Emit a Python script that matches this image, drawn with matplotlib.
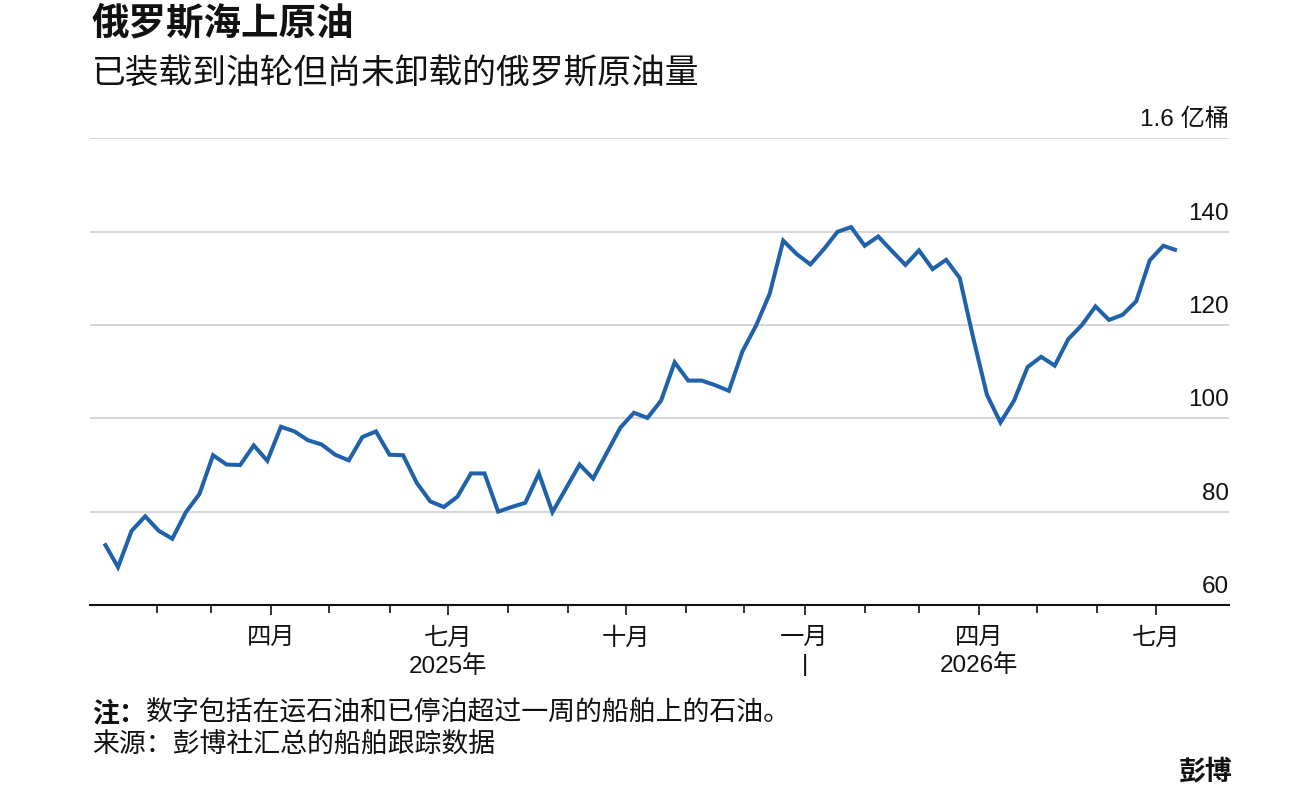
import matplotlib
matplotlib.use("Agg")
import matplotlib.pyplot as plt
import matplotlib.ticker as mticker
import matplotlib.dates as mdates
import matplotlib.transforms as mtransforms
import pandas as pd

plt.rcParams['font.family'] = ['Liberation Sans', 'Noto Sans CJK SC', 'DejaVu Sans']

# ── Data ──────────────────────────────────────────────────────────────────────

START = "2025-01-05"      # weekly readings
volume = [73.2, 68.1, 75.9, 79.0, 75.9, 74.2, 79.9, 83.8, 92.1, 90.1,
          90.0, 94.2, 90.9, 98.2, 97.2, 95.3, 94.4, 92.2, 91.0, 96.0,
          97.2, 92.2, 92.1, 86.2, 82.2, 81.0, 83.2, 88.2, 88.2, 80.0,
          81.0, 81.9, 88.2, 79.9, 85.0, 90.1, 87.1, 92.6, 98.0, 101.2,
          100.1, 103.8, 112.0, 108.1, 108.1, 107.1, 105.9, 114.4, 119.9, 126.7,
          138.1, 135.2, 133.0, 136.3, 140.0, 141.0, 137.0, 139.0, 135.9, 132.9,
          136.0, 132.0, 134.0, 130.1, 117.2, 105.1, 99.1, 103.8, 111.0, 113.2,
          111.3, 117.0, 120.0, 124.0, 121.1, 122.2, 125.1, 133.9, 137.0, 136.0]
dates = pd.date_range(START, periods=len(volume), freq="7D")

y_ticks = [60, 80, 100, 120, 140, 160]
y_labels = ["60", "80", "100", "120", "140", "1.6 亿桶"]

x_ticks = ["2025-04-01", "2025-07-01", "2025-10-01", "2026-01-01", "2026-04-01", "2026-07-01"]
x_labels = ["四月", "七月\n2025年", "十月", "一月\n|", "四月\n2026年", "七月"]
month_ticks = pd.date_range("2025-02-01", "2026-07-01", freq="MS")

TITLE = "俄罗斯海上原油"
SUBTITLE = "已装载到油轮但尚未卸载的俄罗斯原油量"
NOTE_HEAD = "注："
NOTE_BODY = "数字包括在运石油和已停泊超过一周的船舶上的石油。"
SOURCE = "来源：彭博社汇总的船舶跟踪数据"
BRAND = "彭博"

LINE_COLOR = "#1f62ab"
GRID_COLOR = "#cccccc"

# ── Figure ────────────────────────────────────────────────────────────────────

fig = plt.figure(figsize=(13.07, 8.0), dpi=100)
ax = fig.add_axes([0.0689, 0.2438, 0.8714, 0.5831])

ax.plot(dates, volume, color=LINE_COLOR, lw=2.9, solid_joinstyle="miter",
        solid_capstyle="butt", zorder=3)

ax.set_xlim(pd.Timestamp("2024-12-28 14:00"), pd.Timestamp("2026-08-07 20:00"))
ax.set_ylim(60, 160)

# gridlines + right-aligned labels above them
for v in y_ticks[1:]:
    ax.axhline(v, color=GRID_COLOR, lw=1.1, zorder=1)
trans = mtransforms.blended_transform_factory(ax.transAxes, ax.transData)
offset = mtransforms.offset_copy(trans, fig=fig, x=0, y=7, units="dots")
for v, lab in zip(y_ticks, y_labels):
    ax.text(1.0, v, lab, transform=offset, ha="right", va="bottom",
            fontsize=17.5, color="#111111")
ax.set_yticks([])

for s in ["top", "left", "right"]:
    ax.spines[s].set_visible(False)
ax.spines["bottom"].set_linewidth(1.5)
ax.spines["bottom"].set_color("#111111")

ax.xaxis.set_minor_locator(mticker.FixedLocator(mdates.date2num(month_ticks)))
ax.set_xticks(pd.to_datetime(x_ticks))
ax.set_xticklabels(x_labels, fontsize=17.5, linespacing=1.3)
ax.tick_params(axis="x", which="major", length=7, width=1.2, color="#111111",
               pad=9, labelcolor="#111111")
ax.tick_params(axis="x", which="minor", length=5.5, width=1.2, color="#111111")

# ── Texts ─────────────────────────────────────────────────────────────────────

fig.text(0.0704, 1 - 25 / 800, TITLE, ha="left", va="center", fontsize=27,
         fontweight="bold", color="#111111")
fig.text(0.0704, 1 - 74 / 800, SUBTITLE, ha="left", va="center", fontsize=24.3,
         color="#111111")

note_y = 1 - 714 / 800
head = fig.text(0.0704, note_y, NOTE_HEAD, ha="left", va="center", fontsize=19.4,
                fontweight="bold", color="#111111")
fig.canvas.draw()
bb = head.get_window_extent().transformed(fig.transFigure.inverted())
fig.text(bb.x1, note_y, NOTE_BODY, ha="left", va="center", fontsize=19.4,
         color="#111111")
fig.text(0.0704, 1 - 745 / 800, SOURCE, ha="left", va="center", fontsize=19.4,
         color="#111111")
fig.text(0.943, 1 - 772 / 800, BRAND, ha="right", va="center", fontsize=19.4,
         fontweight="bold", color="#111111")

fig.savefig("out.png", dpi=100)
